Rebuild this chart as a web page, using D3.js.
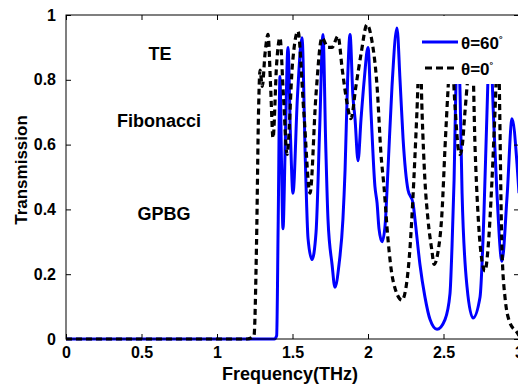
<!DOCTYPE html>
<html>
<head>
<meta charset="utf-8">
<script src="https://cdn.jsdelivr.net/npm/d3@7"></script>
<style>
  html, body { margin: 0; padding: 0; background: #fff; }
  svg { display: block; }
  text { font-family: "Liberation Sans", Arial, sans-serif; font-weight: bold; fill: #000; }
</style>
</head>
<body>
<svg id="chart" width="518" height="384"></svg>
<script>
// ---- data ----
const xTicks = [0, 0.5, 1, 1.5, 2, 2.5, 3];
const xTickLabels = ["0", "0.5", "1", "1.5", "2", "2.5", "3"];
const yTicks = [0, 0.2, 0.4, 0.6, 0.8, 1];
const yTickLabels = ["0", "0.2", "0.4", "0.6", "0.8", "1"];

// theta = 60 deg (blue solid): frequency (THz)
const freq60 = [0, 1.38, 1.395, 1.405, 1.417, 1.427, 1.437, 1.452, 1.470, 1.487, 1.503, 1.533, 1.563, 1.585, 1.603, 1.629, 1.656, 1.68, 1.702, 1.72, 1.735, 1.762, 1.781, 1.808, 1.834, 1.848, 1.865, 1.881, 1.90, 1.914, 1.934, 1.954, 1.975, 2.0, 2.02, 2.046, 2.060, 2.073, 2.093, 2.113, 2.132, 2.159, 2.192, 2.212, 2.232, 2.265, 2.298, 2.311, 2.344, 2.377, 2.411, 2.457, 2.510, 2.543, 2.556, 2.570, 2.583, 2.596, 2.61, 2.623, 2.656, 2.695, 2.742, 2.768, 2.788, 2.808, 2.83, 2.854, 2.887, 2.921, 2.954, 2.987, 3.0];
const trans60 = [0, 0, 0.01, 0.35, 0.81, 0.55, 0.34, 0.6, 0.90, 0.62, 0.45, 0.75, 0.93, 0.55, 0.31, 0.245, 0.33, 0.65, 0.94, 0.6, 0.37, 0.23, 0.16, 0.23, 0.37, 0.52, 0.8, 0.94, 0.75, 0.68, 0.55, 0.68, 0.8, 0.90, 0.7, 0.47, 0.42, 0.34, 0.30, 0.35, 0.52, 0.78, 0.96, 0.8, 0.62, 0.46, 0.42, 0.37, 0.23, 0.13, 0.06, 0.03, 0.06, 0.14, 0.28, 0.49, 0.8, 0.95, 0.75, 0.45, 0.16, 0.065, 0.13, 0.39, 0.7, 0.95, 0.7, 0.45, 0.24, 0.44, 0.68, 0.54, 0.45];

// theta = 0 deg (black dashed)
const freq0 = [0, 1.2, 1.245, 1.262, 1.275, 1.285, 1.300, 1.318, 1.338, 1.355, 1.371, 1.395, 1.417, 1.44, 1.464, 1.50, 1.536, 1.575, 1.616, 1.655, 1.695, 1.735, 1.762, 1.801, 1.83, 1.857, 1.887, 1.92, 1.954, 1.993, 2.026, 2.06, 2.086, 2.106, 2.132, 2.166, 2.225, 2.258, 2.278, 2.298, 2.324, 2.344, 2.358, 2.377, 2.397, 2.424, 2.437, 2.464, 2.490, 2.510, 2.530, 2.550, 2.576, 2.60, 2.609, 2.625, 2.642, 2.66, 2.689, 2.709, 2.728, 2.755, 2.775, 2.795, 2.821, 2.841, 2.861, 2.887, 2.907, 2.940, 2.987, 3.0];
const trans0 = [0, 0, 0.01, 0.3, 0.7, 0.83, 0.78, 0.88, 0.94, 0.78, 0.62, 0.85, 0.93, 0.75, 0.57, 0.85, 0.95, 0.7, 0.45, 0.75, 0.93, 0.9, 0.9, 0.935, 0.83, 0.74, 0.68, 0.78, 0.88, 0.97, 0.92, 0.78, 0.57, 0.47, 0.31, 0.18, 0.12, 0.18, 0.28, 0.44, 0.70, 0.92, 0.70, 0.49, 0.37, 0.27, 0.23, 0.27, 0.39, 0.59, 0.77, 0.92, 0.72, 0.58, 0.57, 0.6, 0.70, 0.8, 0.92, 0.59, 0.39, 0.24, 0.21, 0.28, 0.49, 0.70, 0.92, 0.28, 0.13, 0.05, 0.02, 0.01];

const seriesNames = ["θ=60", "θ=0"];
const annotations = ["TE", "Fibonacci", "GPBG"];
const xLabel = "Frequency(THz)";
const yLabel = "Transmission";

// ---- layout ----
const svg = d3.select("#chart");
const L = 66, R = 519, T = 15, B = 339;
const x = d3.scaleLinear().domain([0, 3]).range([L, R]);
const y = d3.scaleLinear().domain([0, 1]).range([B, T]);

svg.append("defs").append("clipPath").attr("id", "clip")
  .append("rect").attr("x", L).attr("y", T).attr("width", R - L).attr("height", B - T + 2);

const line = d3.line().x(d => x(d[0])).y(d => y(d[1])).curve(d3.curveMonotoneX);

const g = svg.append("g").attr("clip-path", "url(#clip)");
g.append("path")
  .datum(freq60.map((f, i) => [f, trans60[i]]))
  .attr("d", line).attr("fill", "none").attr("stroke", "#0000ff")
  .attr("stroke-width", 3).attr("stroke-linejoin", "round");
g.append("path")
  .datum(freq0.map((f, i) => [f, trans0[i]]))
  .attr("d", line).attr("fill", "none").attr("stroke", "#000")
  .attr("stroke-width", 3.2).attr("stroke-dasharray", "6,4");

// frame
svg.append("rect").attr("x", L).attr("y", T).attr("width", R - L).attr("height", B - T)
  .attr("fill", "none").attr("stroke", "#000").attr("stroke-width", 1);

// axes (inward ticks)
const fmtX = (d, i) => xTickLabels[i];
const fmtY = (d, i) => yTickLabels[i];
const ax = svg.append("g").attr("transform", `translate(0,${B})`)
  .call(d3.axisBottom(x).tickValues(xTicks).tickFormat(fmtX).tickSize(-5).tickPadding(8));
const ay = svg.append("g").attr("transform", `translate(${L},0)`)
  .call(d3.axisLeft(y).tickValues(yTicks).tickFormat(fmtY).tickSize(-5).tickPadding(10));
const at = svg.append("g").attr("transform", `translate(0,${T})`)
  .call(d3.axisTop(x).tickValues(xTicks).tickFormat("").tickSize(-5));
const ar = svg.append("g").attr("transform", `translate(${R},0)`)
  .call(d3.axisRight(y).tickValues(yTicks).tickFormat("").tickSize(-5));
[ax, ay, at, ar].forEach(a => {
  a.select(".domain").remove();
  a.selectAll("line").attr("stroke", "#000");
  a.selectAll("text").attr("font-size", 16).attr("font-family", "Liberation Sans, Arial, sans-serif").attr("font-weight", "bold").attr("fill", "#000");
});

// axis labels
svg.append("text").attr("x", 290).attr("y", 380).attr("text-anchor", "middle")
  .attr("font-size", 18).text(xLabel);
svg.append("text").attr("transform", "translate(27,170) rotate(-90)").attr("text-anchor", "middle")
  .attr("font-size", 17).text(yLabel);

// annotations
const annPos = [[160, 60], [159, 127], [164, 220]];
annotations.forEach((t, i) => {
  svg.append("text").attr("x", annPos[i][0]).attr("y", annPos[i][1])
    .attr("text-anchor", "middle").attr("font-size", 18).text(t);
});

// legend
const lg = svg.append("g");
lg.append("rect").attr("x", 411).attr("y", 16).attr("width", 107).attr("height", 68).attr("fill", "#fff");
const legY = [42, 68];
lg.append("line").attr("x1", 422).attr("x2", 458).attr("y1", legY[0]).attr("y2", legY[0])
  .attr("stroke", "#0000ff").attr("stroke-width", 3);
lg.append("line").attr("x1", 425).attr("x2", 458).attr("y1", legY[1]).attr("y2", legY[1])
  .attr("stroke", "#000").attr("stroke-width", 3.2).attr("stroke-dasharray", "7,4");
seriesNames.forEach((n, i) => {
  const t = lg.append("text").attr("x", 461).attr("y", legY[i] + 7).attr("font-size", 17);
  t.append("tspan").text(n);
  t.append("tspan").attr("dy", -7).attr("font-size", 9).text("°");
});
</script>
</body>
</html>
